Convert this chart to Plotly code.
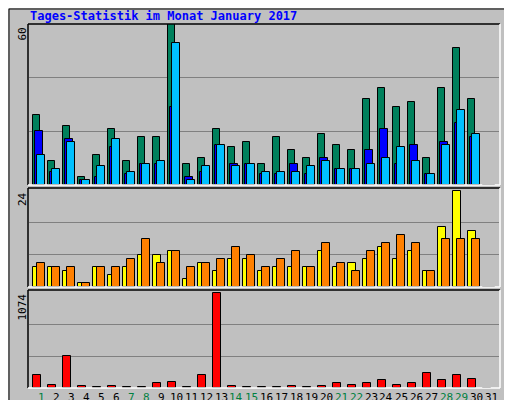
import plotly.graph_objects as go

days = list(range(1, 32))
hits  = [26,9,22,3,11,21,9,18,18,60,8,10,21,14,16,8,18,13,10,19,15,13,32,36,29,31,10,36,51,32,0]
files = [20,5,17,2,3,14,4,8,8,29,3,5,15,8,8,4,4,8,4,10,6,6,13,21,8,15,4,16,23,18,0]
pages = [11,6,16,2,7,17,5,8,9,53,2,7,15,7,8,5,5,5,7,9,6,6,8,10,14,9,4,15,28,19,0]
visits = [5,5,4,1,5,3,5,8,8,9,2,6,4,7,7,4,5,5,5,9,5,6,7,10,7,9,4,15,24,14,0]
sites  = [6,5,5,1,5,5,7,12,6,9,5,6,7,10,8,5,7,9,5,11,6,4,9,11,13,11,4,12,12,12,0]
kbytes = [149,39,360,27,16,27,16,16,51,63,16,149,1074,27,16,16,16,27,16,27,51,39,51,86,39,51,169,86,149,98,0]
weekend = [1,7,8,14,15,21,22,28,29]
max_hits, max_sites, max_kb = 60, 24, 1074

W, H = 512, 400
def fx(px): return px / W
def fy(py): return 1 - py / H

BG = "#c0c0c0"
FONT = "DejaVu Sans Mono"
line = dict(color="black", width=1)

fig = go.Figure()
def bars(y, color, offset, axis):
    fig.add_trace(go.Bar(x=days, y=y, marker=dict(color=color, line=line),
                         width=0.49, offset=offset, xaxis="x", yaxis=axis, showlegend=False))

bars(hits, "#00805c", -0.53, "y")
bars(files, "#0000ff", -0.38, "y")
bars(pages, "#00c0ff", -0.25, "y")
bars(visits, "#ffff00", -0.51, "y2")
bars(sites, "#ff8000", -0.25, "y2")
bars(kbytes, "#ff0000", -0.51, "y3")

panels = [(16, 177), (180, 279), (282, 380)]

ycommon = dict(showticklabels=False, ticks="", gridcolor="#808080", gridwidth=1, automargin=False,
               zeroline=False, showline=False, fixedrange=True)
fig.update_layout(
    width=W, height=H, margin=dict(l=0, r=0, t=0, b=0, autoexpand=False),
    paper_bgcolor=BG, plot_bgcolor=BG, barmode="overlay", bargap=0,
    font=dict(family=FONT, size=11, color="black"),
    xaxis=dict(domain=[fx(21), fx(491)], range=[0.2, 31.53], anchor="y3", automargin=False,
               showticklabels=False, ticks="", showgrid=False, zeroline=False, showline=False),
    yaxis=dict(domain=[fy(panels[0][1]), fy(panels[0][0])], range=[0, max_hits],
               tickvals=[max_hits/3, 2*max_hits/3], anchor="x", **ycommon),
    yaxis2=dict(domain=[fy(panels[1][1]), fy(panels[1][0])], range=[0, max_sites*1.03],
                tickvals=[max_sites/3, 2*max_sites/3], anchor="x", **ycommon),
    yaxis3=dict(domain=[fy(panels[2][1]), fy(panels[2][0])], range=[0, max_kb*1.03],
                tickvals=[max_kb/3, 2*max_kb/3], anchor="x", **ycommon),
)

shapes = []
shapes.append(dict(type="rect", xref="paper", yref="paper", x0=fx(1), x1=fx(511), y0=fy(399), y1=fy(1),
                   line=dict(color="black", width=1)))
for (t, b) in panels:
    x0, x1 = fx(20), fx(492)
    shapes.append(dict(type="line", xref="paper", yref="paper", x0=x0, x1=x1, y0=fy(t), y1=fy(t), line=dict(color="black", width=1.5)))
    shapes.append(dict(type="line", xref="paper", yref="paper", x0=x0, x1=x0, y0=fy(t), y1=fy(b), line=dict(color="black", width=1.5)))
    shapes.append(dict(type="line", xref="paper", yref="paper", x0=x0, x1=x1, y0=fy(b), y1=fy(b), line=dict(color="white", width=1.5)))
    shapes.append(dict(type="line", xref="paper", yref="paper", x0=x1, x1=x1, y0=fy(t), y1=fy(b), line=dict(color="white", width=1.5)))
fig.update_layout(shapes=shapes)

ann = []
for d in days:
    ann.append(dict(text=str(d), x=d, y=fy(389), xref="x", yref="paper", xanchor="center", yanchor="middle",
                    showarrow=False, font=dict(size=11, family=FONT, color="#008040" if d in weekend else "black")))
ann.append(dict(text="<b>Tages-Statistik im Monat January 2017</b>", x=fx(20), y=fy(8), xref="paper", yref="paper",
                xanchor="left", yanchor="middle", showarrow=False, font=dict(color="#0000ff", size=12, family=FONT)))
for (t, b), lbl in zip(panels, [str(max_hits), str(max_sites), str(max_kb)]):
    ann.append(dict(text=lbl, x=fx(14), y=fy(t + 2), xref="paper", yref="paper", textangle=-90,
                    xanchor="center", yanchor="top", showarrow=False, font=dict(size=11, family=FONT)))
ann.append(dict(text='<span style="color:#00c0ff">Seiten</span><span style="color:#ffff00">/</span><span style="color:#0000ff">Dateien</span><span style="color:#ffff00">/</span><span style="color:#008040">Anfragen</span>',
                x=fx(501), y=fy(16), xref="paper", yref="paper", textangle=-90, xanchor="center", yanchor="top",
                showarrow=False, font=dict(size=11, family=FONT)))
ann.append(dict(text='<span style="color:#ffff00">Besuche</span><span style="color:#ffff00"> / </span><span style="color:#ff8000">Rechner (IP-Adressen)</span>',
                x=fx(501), y=fy(282), xref="paper", yref="paper", textangle=-90, xanchor="center", yanchor="bottom",
                showarrow=False, font=dict(size=11, family=FONT)))
ann.append(dict(text='<span style="color:#ff0000">kB F</span> / <span style="color:#0000ff">kB In</span> / <span style="color:#008040">kB Out</span>',
                x=fx(501), y=fy(396), xref="paper", yref="paper", textangle=-90, xanchor="center", yanchor="bottom",
                showarrow=False, font=dict(size=11, family=FONT)))
fig.update_layout(annotations=ann)

fig.write_html("out.html")
